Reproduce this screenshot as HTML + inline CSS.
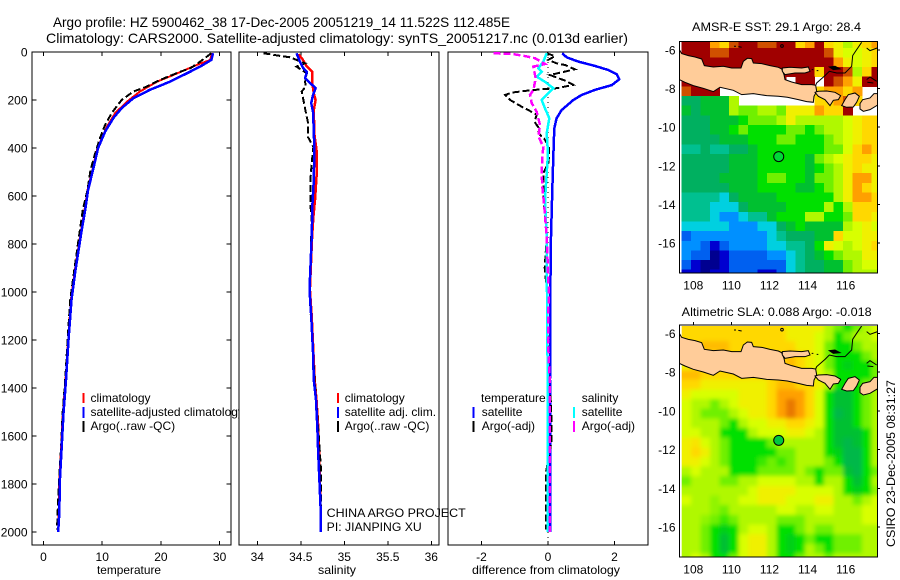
<!DOCTYPE html>
<html lang="en">
<head>
<meta charset="utf-8">
<title>Argo profile chart</title>
<style>
html,body{margin:0;padding:0;background:#fff;}
svg{display:block;font-family:"Liberation Sans",Arial,sans-serif;font-size:12px;fill:#000;}
.frame{fill:#fff;stroke:#000;stroke-width:1.4;shape-rendering:crispEdges;}
.frame-top{fill:none;stroke:#000;stroke-width:1.4;shape-rendering:crispEdges;}
.mark{fill:none;shape-rendering:crispEdges;}
.tick{stroke:#000;stroke-width:1;shape-rendering:crispEdges;}
.seg{stroke-width:2;shape-rendering:crispEdges;}
</style>
</head>
<body>
<svg id="chart" xmlns="http://www.w3.org/2000/svg" width="900" height="580" viewBox="0 0 900 580">
  <defs>
    <clipPath id="clip-sst"><rect x="680" y="42" width="197" height="231"/></clipPath>
    <clipPath id="clip-sla"><rect x="680" y="326" width="197" height="231"/></clipPath>
    <clipPath id="clip-sla-cells"><rect x="681.7" y="326" width="195.3" height="231"/></clipPath>
    <filter id="sla-smooth" filterUnits="userSpaceOnUse" x="660" y="300" width="240" height="280">
      <feGaussianBlur stdDeviation="2.2"/>
    </filter>
    <g id="coast-shapes">
      <path d="M28,100 35,112 55,118 75,122 95,128 103,148 130,152 160,150 185,155 213,155 220,135 232,126 245,127 250,140 275,142 300,148 325,153 335,158 342,175 345,190 365,197 395,205 425,205 437,207 440,225 432,240 430,258 410,256 385,250 352,243 325,240 290,238 250,232 215,235 190,222 150,213 130,226 100,216 70,208 45,198 28,190Z" fill="#ffcc99" stroke="#000" stroke-width="3"/>
      <path d="M337,155 360,153 395,155 415,152 420,165 405,170 375,170 345,175 337,165Z" fill="#ffcc99" stroke="#000" stroke-width="3"/>
      <path d="M435,228 445,225 470,224 495,228 512,238 505,250 490,252 480,268 465,250 445,240Z" fill="#ffcc99" stroke="#000" stroke-width="3"/>
      <path d="M515,268 525,250 535,235 555,230 568,240 560,258 550,272 530,273Z" fill="#ffcc99" stroke="#000" stroke-width="3"/>
      <path d="M570,262 578,250 600,245 612,232 625,232 625,265 600,280 580,285 570,278Z" fill="#ffcc99" stroke="#000" stroke-width="3"/>
      <path d="M575,78 560,100 548,118 545,150 525,170 500,170 478,165 465,178 440,200 437,207" fill="none" stroke="#000" stroke-width="3"/>
      <path d="M478,152 495,150 510,158 490,160Z" fill="#000" stroke="#000" stroke-width="3"/>
      <path d="M590,95 600,103 622,95M590,190 600,182 620,195M592,198 610,200M192,90 198,90M205,91 215,93M425,160 430,160M440,163 445,163" fill="none" stroke="#000" stroke-width="3"/>
      <circle cx="336" cy="89" r="4" fill="none" stroke="#000" stroke-width="3"/>
    </g>
  </defs>

  <rect x="0" y="0" width="900" height="580" fill="#fff"/>

  <text x="53" y="27" font-size="14" textLength="457" lengthAdjust="spacingAndGlyphs">Argo profile: HZ 5900462_38 17-Dec-2005 20051219_14 11.522S 112.485E</text>
  <text x="46" y="43" font-size="14" textLength="582" lengthAdjust="spacingAndGlyphs">Climatology: CARS2000. Satellite-adjusted climatology: synTS_20051217.nc (0.013d earlier)</text>

  <g id="panel-temp">
    <rect class="frame" x="32" y="52" width="199" height="493"/>
    <g id="temp-ticks"></g>
    <g id="temp-series"></g>
    <line class="seg" x1="83.5" y1="393" x2="83.5" y2="403" stroke="#ff0000"/>
    <line class="seg" x1="83.5" y1="407" x2="83.5" y2="418" stroke="#0000ff"/>
    <line class="seg" x1="83.5" y1="421" x2="83.5" y2="432" stroke="#000"/>
    <text x="90.5" y="402">climatology</text>
    <text x="90.5" y="416">satellite-adjusted climatology</text>
    <text x="90.5" y="430">Argo(..raw -QC)</text>
    <text x="129" y="574" text-anchor="middle" textLength="64" lengthAdjust="spacingAndGlyphs">temperature</text>
  </g>

  <g id="panel-sal">
    <rect class="frame" x="239" y="52" width="200" height="493"/>
    <g id="sal-ticks"></g>
    <g id="sal-series"></g>
    <line class="seg" x1="338" y1="393" x2="338" y2="403" stroke="#ff0000"/>
    <line class="seg" x1="338" y1="407" x2="338" y2="418" stroke="#0000ff"/>
    <line class="seg" x1="338" y1="421" x2="338" y2="432" stroke="#000"/>
    <text x="344.7" y="402">climatology</text>
    <text x="344.7" y="416">satellite adj. clim.</text>
    <text x="344.7" y="430">Argo(..raw -QC)</text>
    <text x="337" y="574" text-anchor="middle" textLength="38" lengthAdjust="spacingAndGlyphs">salinity</text>
  </g>

  <g id="panel-diff">
    <rect class="frame" x="448" y="52" width="200" height="493"/>
    <g id="diff-ticks"></g>
    <g id="diff-series"></g>
    <text x="481" y="402">temperature</text>
    <line class="seg" x1="473.7" y1="407" x2="473.7" y2="418" stroke="#0000ff"/>
    <line class="seg" x1="473.7" y1="421" x2="473.7" y2="432" stroke="#000"/>
    <text x="481.7" y="416">satellite</text>
    <text x="481.7" y="430">Argo(-adj)</text>
    <text x="581.7" y="402">salinity</text>
    <line class="seg" x1="574" y1="407" x2="574" y2="418" stroke="#00ffff"/>
    <line class="seg" x1="574" y1="421" x2="574" y2="432" stroke="#ff00ff"/>
    <text x="581.7" y="416">satellite</text>
    <text x="581.7" y="430">Argo(-adj)</text>
    <text x="546" y="574" text-anchor="middle" textLength="148" lengthAdjust="spacingAndGlyphs">difference from climatology</text>
  </g>

  <text x="326.7" y="517" textLength="139" lengthAdjust="spacingAndGlyphs">CHINA ARGO PROJECT</text>
  <text x="326.7" y="531" textLength="95" lengthAdjust="spacingAndGlyphs">PI: JIANPING XU</text>

  <g id="map-sst">
    <text x="692" y="31" textLength="169" lengthAdjust="spacingAndGlyphs">AMSR-E SST: 29.1 Argo: 28.4</text>
    <g id="sst-cells" clip-path="url(#clip-sst)"></g>
    <g clip-path="url(#clip-sst)">
      <use href="#coast-shapes" transform="translate(670,16.3) scale(0.33333)"/>
    </g>
    <rect class="frame-top" x="679.5" y="41.5" width="198" height="231.5"/>
    <g id="sst-ticks"></g>
    <circle id="sst-argo" r="5" fill="#00d838" stroke="#000" stroke-width="1"/>
  </g>

  <g id="map-sla">
    <text x="681.7" y="316" textLength="190" lengthAdjust="spacingAndGlyphs">Altimetric SLA: 0.088 Argo: -0.018</text>
    <g clip-path="url(#clip-sla-cells)">
      <g id="sla-cells" filter="url(#sla-smooth)"></g>
    </g>
    <g clip-path="url(#clip-sla)">
      <use href="#coast-shapes" transform="translate(670,300) scale(0.33333)"/>
    </g>
    <rect class="frame-top" x="679.5" y="325" width="198" height="232"/>
    <g id="sla-ticks"></g>
    <circle id="sla-argo" r="5" fill="#00c840" stroke="#000" stroke-width="1"/>
  </g>

  <text transform="translate(895,547) rotate(-90)" textLength="167" lengthAdjust="spacingAndGlyphs">CSIRO 23-Dec-2005 08:31:27</text>
</svg>

<script>
// ---- Axis tick values ----
const depthTicks = [0,200,400,600,800,1000,1200,1400,1600,1800,2000];
const tempTicks = [0,10,20,30];
const salTicks = [34,34.5,35,35.5,36];
const diffTicks = [-2,0,2];
const lonTicks = [108,110,112,114,116];
const latTicks = [-6,-8,-10,-12,-14,-16];

// ---- Temperature profiles ----
const tempClimDepth = [5,33,54,96,124,165,207,255,311,400,484,575,658,742,908,1033,1200,1367,1505,1645,1783,1921,2000];
const tempClim = [28.7,28.4,26.1,22.1,19.3,16.4,14.2,12.2,10.8,9.2,8.4,7.5,7.0,6.4,5.35,4.67,4.2,3.75,3.3,3.0,2.7,2.6,2.5];
const tempSatDepth = [5,33,61,89,124,158,193,234,275,332,400,484,575,658,742,908,1033,1200,1367,1505,1645,1783,1921,2000];
const tempSat = [28.9,28.6,26.7,24.4,21.5,18.1,15.3,13.3,11.9,10.5,9.3,8.5,7.6,7.1,6.5,5.45,4.77,4.26,3.83,3.4,3.1,2.8,2.7,2.5];
const tempArgoDepth = [5,40,68,82,117,144,165,200,255,304,359,422,492,575,658,742,908,1033,1200,1367,1505,1645,1783,1921,1990];
const tempArgo = [28.6,26.7,25,23.3,19.8,17.6,15.3,13.3,11.6,10.5,9.6,8.8,8.0,7.5,6.7,6.2,5.25,4.55,4.1,3.7,3.25,3.0,2.65,2.4,2.3];

// ---- Salinity profiles ----
const salClimDepth = [10,25,61,82,124,172,200,242,340,408,520,617,686,770,990,1100,1250,1367,1450,1560,1671,1812,1921,2000];
const salClim = [34.47,34.51,34.57,34.63,34.63,34.65,34.67,34.65,34.655,34.68,34.68,34.663,34.645,34.63,34.605,34.625,34.645,34.66,34.68,34.7,34.71,34.72,34.73,34.73];
const salSatDepth = [5,40,68,82,109,130,151,179,213,249,325,408,533,630,770,990,1100,1250,1367,1450,1560,1671,1812,1921,2000];
const salSat = [34.45,34.49,34.53,34.57,34.55,34.61,34.67,34.64,34.62,34.64,34.65,34.655,34.65,34.635,34.625,34.6,34.62,34.64,34.65,34.675,34.69,34.7,34.717,34.73,34.73];
const salArgoDepth = [5,15,22,47,61,89,124,144,165,200,249,290,353,395,463,533,638,700,775,1000,1200,1367,1617,1729,1867,1900];
const salArgo = [34.07,34.24,34.376,34.55,34.45,34.57,34.55,34.556,34.51,34.53,34.556,34.58,34.58,34.645,34.625,34.61,34.61,34.625,34.62,34.6,34.63,34.66,34.71,34.73,34.73,34.73];

// ---- Differences from climatology ----
const diffTempSatDepth = [5,22,40,58,75,93,114,138,158,179,200,242,276,318,436,575,770,1000,1367,2000];
const diffTempSat = [0.43,0.56,0.91,1.41,1.81,2.07,2.14,1.92,1.41,1.01,0.76,0.41,0.26,0.19,0.16,0.13,0.09,0.07,0.06,0.06];
const diffSalSatDepth = [5,40,68,82,103,124,151,172,200,235,276,339,422,505,617,770,1000,1367,2000];
const diffSalSat = [-0.04,-0.14,-0.29,-0.19,-0.34,-0.09,0.16,0.01,-0.19,-0.09,0.04,-0.04,0,-0.04,-0.09,-0.04,-0.03,-0.01,-0.01];
const diffTempArgoDepth = [5.5,17,33,47,54,72,96,119,137,151,156,162,169,179,200,228,242,262,290,314,339,360,394,436,464,505,561,630,672,770,900,1000,1367,1463,1575,1630,1750,1850,1920,1990];
const diffTempArgo = [-0.04,0.21,0.01,0.26,0.51,0.81,0.06,0.51,0.76,0.26,-0.24,-0.69,-1.09,-1.29,-1.14,-0.79,-0.59,-0.34,-0.41,-0.29,-0.29,-0.12,0.03,0.03,0.01,-0.14,-0.14,-0.14,-0.09,-0.04,-0.1,-0.03,0.02,0.09,0.11,0.1,-0.06,-0.06,-0.06,-0.06];
const diffSalArgoDepth = [5.5,8,17,26,50,61,96,110,158,179,213,249,304,353,394,443,505,561,630,770,1000,1200,1367,2000];
const diffSalArgo = [-1.64,-1.09,-0.69,-0.39,-0.09,-0.44,-0.39,-0.37,-0.44,-0.54,-0.49,-0.34,-0.24,-0.29,-0.14,-0.17,-0.19,-0.17,-0.12,-0.04,0.02,0,0.05,0.05];
const zeroLineDepth = [0,2054];
const zeroLineValue = [0,0];

// ---- Map positions ----
const argoLon = 112.485;
const argoLat = -11.522;

// ---- Heatmap levels (0 = coldest/lowest, 16 = warmest/highest, null = no data) ----
const sstGrid = [
[16,16,16,14,13,15,16,16,15,15,16,16,13,14,16,13,12,10,12,13,14],
[16,16,16,15,15,16,16,16,16,16,16,16,16,16,16,15,12,11,11,12,13],
[16,16,16,16,16,16,16,16,16,16,16,16,16,16,16,16,14,12,11,12,13],
[16,16,16,16,16,16,16,16,16,16,16,16,16,16,13,16,16,15,10,13,16],
[16,16,16,16,16,16,16,16,16,16,16,null,16,16,null,16,15,14,12,16,16],
[15,16,16,16,null,null,null,null,null,null,null,null,null,null,13,14,14,13,14,null,null],
[6,6,7,7,7,10,null,null,null,null,null,null,null,null,13,13,14,15,13,null,null],
[7,6,7,7,7,10,9,9,10,10,9,12,12,12,14,13,13,16,null,null,null],
[6,6,6,7,7,7,8,9,9,9,10,12,10,10,10,10,10,11,12,13,13],
[6,6,6,7,7,8,9,8,8,8,8,9,9,8,9,10,10,11,12,13,13],
[6,6,6,6,7,7,7,8,8,8,9,9,8,8,8,9,10,11,12,13,13],
[5,5,6,5,5,6,6,7,8,8,8,8,8,8,8,9,9,11,13,14,13],
[6,6,6,6,6,7,7,7,8,8,8,8,8,7,9,10,11,12,13,13,12],
[6,6,6,6,6,7,7,7,8,8,8,8,8,7,8,9,10,12,13,12,12],
[6,6,6,6,7,7,7,7,8,9,9,8,8,7,9,9,10,12,14,14,12],
[6,6,6,6,6,7,7,7,8,8,8,8,7,7,8,9,10,12,14,13,12],
[5,5,5,5,4,6,7,7,7,7,8,8,8,8,8,8,10,12,14,14,13],
[5,5,5,4,4,4,6,7,7,7,7,8,8,8,8,10,8,10,13,13,13],
[5,5,5,4,3,3,4,5,5,7,8,8,8,10,10,8,8,9,13,13,12],
[4,4,4,4,4,3,3,3,4,4,6,7,8,7,7,7,7,10,11,12,11],
[2,3,3,3,3,3,3,3,3,4,5,6,6,6,7,7,13,11,11,12,12],
[3,3,2,1,2,3,3,3,3,4,4,5,5,6,8,12,11,10,11,12,13],
[3,2,2,0,1,2,2,2,2,3,3,4,5,6,7,8,9,10,10,12,12],
[2,1,0,0,1,2,2,2,2,2,2,4,5,6,6,7,7,9,10,11,11],
[1,1,0,1,1,2,2,2,1,1,2,4,5,6,6,7,7,9,10,10,10]
];
const slaGrid = [
[13,13,13,13,13,13,13,13,13,13,13,12,12,12,12,10,9,8,9,10,11],
[13,13,13,13,13,13,13,13,13,13,13,12,12,12,11,10,8,9,10,10,11],
[13,13,13.5,13.5,13.5,13,13,13,13,13,13,13,12,12,11,9,8,8,9,10,10],
[12.5,13,13,13,13.5,13,13,13,13,13,13,13.5,13,12,11,9,8,8,8,9,10],
[12,13,13,13,13,13,13,13,13,13,13,13.5,13,12,11,9,8,7.5,8,8,9],
[13.5,13.5,13,13,13,13,13,13,13,13,13,13,13,12,11,10,8,8,8,8,9],
[13,13,12,12,12,12,12,12,12,13,13.5,13.5,13,13,12,10,8,8,8,9,9],
[12,11,11,11,11,11,12,12,12,13,14,14,14,13,11,8,7,7,8,9,10],
[11,10,10,9,10,11,12,12,12,13,14,14.5,14,13,11,8,7,7,8,9,10],
[11,10,9,9,9,10,11,12,12,13,14,14.5,14,13,11,8,6.5,7,8,9,10],
[11,10,10,10,9,8,10,11,11,12,12,13,13,12,11,8,7,7,8,9,10],
[11,11,10,10,8,8,8,10,11,11,11,12,12,11,10,8,7,7,7,8,10],
[12,12.5,11,10,9,8,8,8,8,9,10,10,10,10,10,8,7,6.5,7,8,10],
[12,13,12,10,9,8,8,8,8,8,9,9,10,10,10,8,7.5,6.5,6.5,8,10],
[12,12,11,10,9,8,8,8,8.5,9,8.5,9,10,10,10,9,8,6.5,6.5,8,10],
[10,11,10,10,10,8,8,8,9,9,9,9,10,9,8,9,9,7,6.5,8,9],
[9,10,10,10,9,9,10,10,11,11,11,11,10,10,8,10,10,8,7,8,10],
[10,10,10,10,10,10,10,11,12,12,12,12,11,11,11,11,10,8,7.5,8,9.5],
[11,10,10,9.5,10,10,11,11,12,12,12,11,11,11,12,12,10,10,9,10,11],
[10,10,10,9.5,9,10,10,10,10,10,11,11,10,10,11,11,10,10,10,11,11],
[10,10,9.5,9,8.5,9,10,10,10,10,9,9,9,10,10,10,10,10,10,11,11],
[10,10,9,8,7.5,8,10,11,11,10,8,8,9,10,9,9,10,10,10,10,10],
[10,10,9,8,7,8,11,12,12,10,8,7.5,8,9,8,8,9,9,9,10,10],
[10,10,9,8,7,8,11,12,12,10,8,7.5,8,10,9,8,9,9,9,10,10],
[10,11,10,8,8,9,11,12,12,10,8,8,9,10,10,9,10,10,10,10,10]
];
const colorStops = ["#000090","#0000d0","#0060f0","#0090ff","#00d0e0","#00c090","#00b060","#00c030","#00e000","#70f000","#b0f800","#d8ff00","#f0f000","#ffd800","#ffa000","#d05000","#a00000"];

// ---- Scales ----
const depthY = d => 52 + 0.24 * d;
const tempX = t => 43.5 + 5.87 * t;
const salX = s => 257.3 + 87 * (s - 34);
const diffX = v => 548 + 33.25 * v;
const lonX = lon => 693.3 + 19.05 * (lon - 108);
const sstLatY = lat => 50 + 19.3 * (-6 - lat);
const slaLatY = lat => 333.5 + 19.35 * (-6 - lat);
const cellX = c => 681.7 + 9.5 * c;
const sstCellY = r => 38.1 + 9.65 * r;
const slaCellY = r => 321.8 + 9.65 * r;

const NS = "http://www.w3.org/2000/svg";
function make(tag, attrs, parent, txt) {
  const el = document.createElementNS(NS, tag);
  for (const k in attrs) el.setAttribute(k, attrs[k]);
  if (txt !== undefined) el.textContent = txt;
  parent.appendChild(el);
  return el;
}
function hexToRgb(h) {
  return [parseInt(h.slice(1,3),16), parseInt(h.slice(3,5),16), parseInt(h.slice(5,7),16)];
}
function levelColor(v) {
  const i = Math.max(0, Math.min(colorStops.length - 2, Math.floor(v)));
  const f = Math.max(0, Math.min(1, v - i));
  const a = hexToRgb(colorStops[i]);
  const b = hexToRgb(colorStops[i + 1]);
  return "rgb(" + a.map((x, n) => Math.round(x + (b[n] - x) * f)).join(",") + ")";
}

function drawProfile(parent, xs, depths, scaleX, color, width, dash, name) {
  const pts = xs.map((v, i) => scaleX(v).toFixed(1) + "," + depthY(depths[i]).toFixed(1)).join(" ");
  const attrs = { class: "mark", points: pts, stroke: color, "stroke-width": width };
  if (dash) attrs["stroke-dasharray"] = dash;
  const el = make("polyline", attrs, parent);
  
  
}

function drawPanelTicks(parent, ticks, scaleX, left, right, withDepth) {
  ticks.forEach(t => {
    const x = scaleX(t);
    const top = make("line", { class: "tick", x1: x, x2: x, y1: 52, y2: 56 }, parent);
    
    
    const bottom = make("line", { class: "tick", x1: x, x2: x, y1: 541, y2: 545 }, parent);
    
    
    const label = make("text", { x: x, y: 561, "text-anchor": "middle" }, parent, String(t));
    
    
  });
  if (withDepth) {
    depthTicks.forEach(d => {
      const y = depthY(d);
      const l = make("line", { class: "tick", x1: left, x2: left + 4.5, y1: y, y2: y }, parent);
      
      
      const r = make("line", { class: "tick", x1: right - 4.5, x2: right, y1: y, y2: y }, parent);
      
      
      const label = make("text", { x: 27.5, y: y + 4.5, "text-anchor": "end" }, parent, String(d));
      
      
    });
  }
}

function drawCells(parent, grid, cellY, name, pad) {
  const rows = grid.length;
  grid.forEach((row, r) => {
    row.forEach((v, c) => {
      if (v === null) return;
      const padL = c === 0 ? pad : 0;
      const padR = c === row.length - 1 ? pad : 0;
      const padT = r === 0 ? pad : 0;
      const padB = r === rows - 1 ? pad : 0;
      const el = make("rect", {
        x: (cellX(c) - padL).toFixed(1), y: (cellY(r) - padT).toFixed(1),
        width: 9.9 + padL + padR, height: 10.05 + padT + padB,
        fill: levelColor(v), "shape-rendering": "crispEdges"
      }, parent);
      
      
    });
  });
}

function drawMapTicks(parent, latY, frameTop, labelY, showTop) {
  lonTicks.forEach(lon => {
    const x = lonX(lon);
    if (showTop) {
      const t = make("line", { class: "tick", x1: x, x2: x, y1: frameTop - 3, y2: frameTop }, parent);
      
      
    }
    const label = make("text", { x: x, y: labelY, "text-anchor": "middle" }, parent, String(lon));
    
    
  });
  latTicks.forEach(lat => {
    const y = latY(lat);
    const t = make("line", { class: "tick", x1: 877.5, x2: 880, y1: y, y2: y }, parent);
    
    
    const label = make("text", { x: 675.5, y: y + 4.5, "text-anchor": "end" }, parent, String(lat));
    
    
  });
}

// ---- Draw ----
const gTempS = document.getElementById("temp-series");
drawProfile(gTempS, tempClim, tempClimDepth, tempX, "#ff0000", 2, null, "temperature-climatology-line");
drawProfile(gTempS, tempArgo, tempArgoDepth, tempX, "#000", 2, "7 3", "temperature-argo-line");
drawProfile(gTempS, tempSat, tempSatDepth, tempX, "#0000ff", 2.5, null, "temperature-satellite-line");
drawPanelTicks(document.getElementById("temp-ticks"), tempTicks, tempX, 32, 231, true);

const gSalS = document.getElementById("sal-series");
drawProfile(gSalS, salClim, salClimDepth, salX, "#ff0000", 2.5, null, "salinity-climatology-line");
drawProfile(gSalS, salArgo, salArgoDepth, salX, "#000", 2, "7 3", "salinity-argo-line");
drawProfile(gSalS, salSat, salSatDepth, salX, "#0000ff", 2.5, null, "salinity-satellite-line");
drawPanelTicks(document.getElementById("sal-ticks"), salTicks, salX, 239, 439, false);

const gDiffS = document.getElementById("diff-series");
drawProfile(gDiffS, zeroLineValue, zeroLineDepth, diffX, "#000", 1, "1 4", "zero-difference-line");
drawProfile(gDiffS, diffTempSat, diffTempSatDepth, diffX, "#0000ff", 2.5, null, "difference-temp-satellite-line");
drawProfile(gDiffS, diffTempArgo, diffTempArgoDepth, diffX, "#000", 2, "7 3", "difference-temp-argo-line");
drawProfile(gDiffS, diffSalSat, diffSalSatDepth, diffX, "#00ffff", 2.5, null, "difference-sal-satellite-line");
drawProfile(gDiffS, diffSalArgo, diffSalArgoDepth, diffX, "#ff00ff", 2.5, "7 3", "difference-sal-argo-line");
drawPanelTicks(document.getElementById("diff-ticks"), diffTicks, diffX, 448, 648, false);

drawCells(document.getElementById("sst-cells"), sstGrid, sstCellY, "sst-cell", 0);
drawCells(document.getElementById("sla-cells"), slaGrid, slaCellY, "sla-cell", 12);
drawMapTicks(document.getElementById("sst-ticks"), sstLatY, 41.5, 289.5, false);
drawMapTicks(document.getElementById("sla-ticks"), slaLatY, 325, 573.5, true);

const sstDot = document.getElementById("sst-argo");
sstDot.setAttribute("cx", lonX(argoLon));
sstDot.setAttribute("cy", sstLatY(argoLat));
const slaDot = document.getElementById("sla-argo");
slaDot.setAttribute("cx", lonX(argoLon));
slaDot.setAttribute("cy", slaLatY(argoLat));
</script>
</body>
</html>
